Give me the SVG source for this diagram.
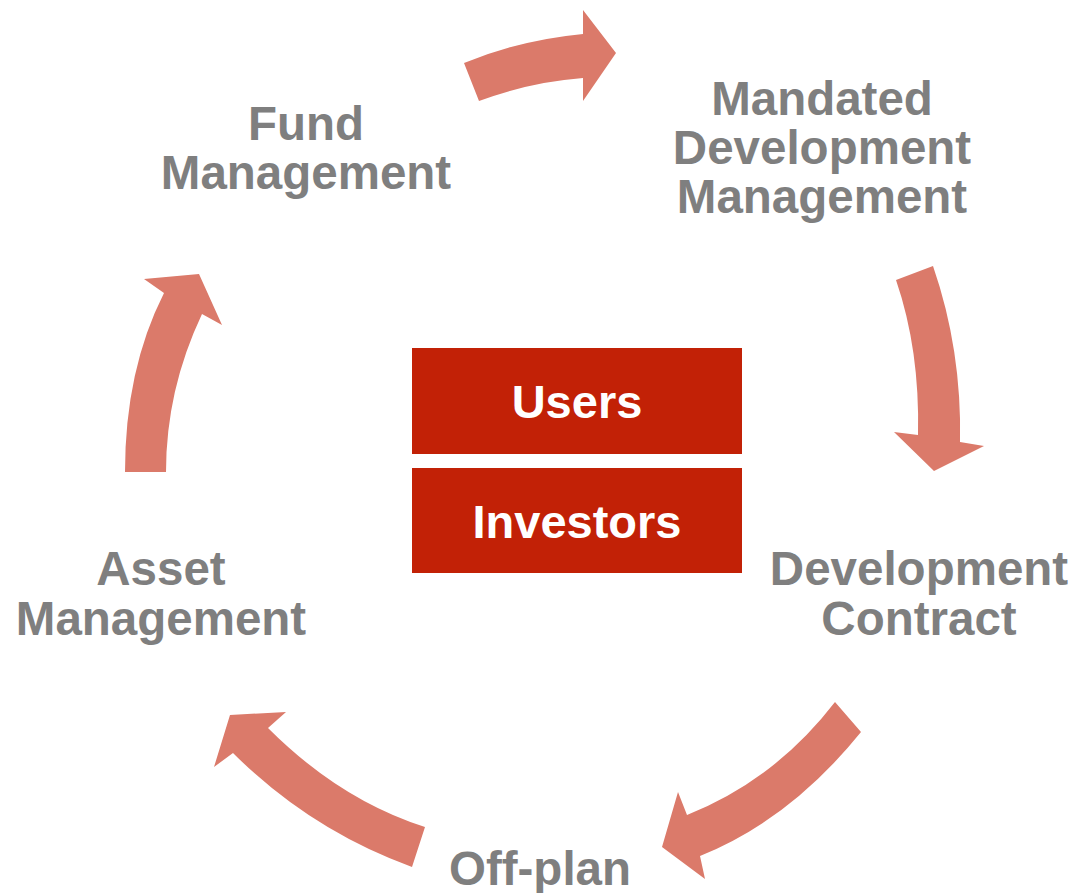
<svg xmlns="http://www.w3.org/2000/svg" width="1074" height="893" viewBox="0 0 1074 893">
<style>
.lbl{font-family:"Liberation Sans",Arial,sans-serif;font-weight:bold;font-size:47.5px;fill:#7F7F7F;text-anchor:middle}
.box{fill:#C22106}
.btxt{font-family:"Liberation Sans",Arial,sans-serif;font-weight:bold;font-size:47px;fill:#FFFFFF;text-anchor:middle}
.arr{fill:#DB7A6A}
</style>
<rect width="1074" height="893" fill="#FFFFFF"/>
<g id="connectors">
<path class="arr" d="M464,63 Q520,40 583,34 L583,10 L616,53 L583,101 L583,78 Q530,82 479,101 Z"/>
<path class="arr" d="M896,280 L933,266 Q962,350 960,442 L984,446 L934,471 L894,432 L918,435 Q920,350 896,280 Z"/>
<path class="arr" d="M835,702 L861,732 Q790,820 700,856 L705,879 L662,847 L678,792 L687,815 Q775,780 835,702 Z"/>
<path class="arr" d="M425,827 L412,867 Q310,830 233,753 L214,767 L230,715 L286,712 L268,728 Q340,800 425,827 Z"/>
<path class="arr" d="M125,472 Q125,370 164,293 L144,279 L199,274 L222,325 L202,314 Q166,390 166,472 Z"/>
</g>
<g id="fund"><text class="lbl" x="306" y="140">Fund</text><text class="lbl" x="306" y="189">Management</text></g>
<g id="mandated"><text class="lbl" x="822" y="115">Mandated</text><text class="lbl" x="822" y="164">Development</text><text class="lbl" x="822" y="213">Management</text></g>
<g id="contract"><text class="lbl" x="919" y="585">Development</text><text class="lbl" x="919" y="635">Contract</text></g>
<g id="offplan"><text class="lbl" x="540" y="885">Off-plan</text></g>
<g id="asset"><text class="lbl" x="161" y="585">Asset</text><text class="lbl" x="161" y="635">Management</text></g>
<g id="users"><rect class="box" x="412" y="348" width="330" height="106"/><text class="btxt" x="577" y="418">Users</text></g>
<g id="investors"><rect class="box" x="412" y="468" width="330" height="105"/><text class="btxt" x="577" y="538">Investors</text></g>
</svg>
